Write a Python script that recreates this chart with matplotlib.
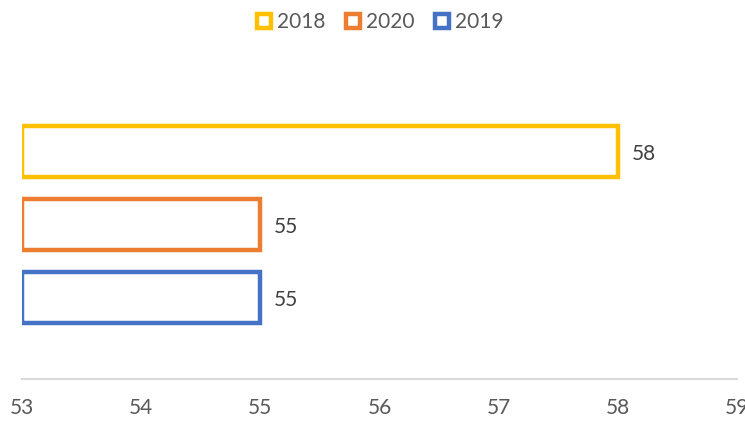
import matplotlib.pyplot as plt
from matplotlib.patches import Patch

# data
years = ['2019', '2020', '2018']
values = [55, 55, 58]
colors = ['#4472C4', '#ED7D31', '#FFC000']
legend_order = ['2018', '2020', '2019']
xticks = [53, 54, 55, 56, 57, 58, 59]

plt.rcParams['font.family'] = ['Lato', 'DejaVu Sans']

fig = plt.figure(figsize=(7.45, 4.21), dpi=100)
ax = fig.add_axes([22 / 745, 42 / 421, 715 / 745, 319 / 421])

for i, (yr, v, c) in enumerate(zip(years, values, colors)):
    ax.barh(i, v - xticks[0], left=xticks[0], height=0.7, facecolor='white',
            edgecolor=c, linewidth=3.2)
    ax.annotate(str(v), (v, i - 0.04), xytext=(10, 0), textcoords='offset points',
                va='center', ha='left', fontsize=15, color='#404040')

ax.set_xlim(xticks[0], xticks[-1])
ax.set_ylim(-1.116, 3.254)
ax.set_xticks(xticks)
ax.set_xticklabels([str(t) for t in xticks], fontsize=15, color='#595959')
ax.tick_params(axis='x', length=0, pad=14)
ax.set_yticks([])
for s in ['top', 'right', 'left']:
    ax.spines[s].set_visible(False)
ax.spines['bottom'].set_color('#D9D9D9')
ax.spines['bottom'].set_linewidth(1.5)

handles = [Patch(facecolor='white', edgecolor=colors[years.index(y)], linewidth=3.2, label=y)
           for y in legend_order]
fig.legend(handles=handles, loc='upper center', bbox_to_anchor=(0.51, 1.015), ncol=3,
           frameon=False, fontsize=15, labelcolor='#595959', handlelength=0.7,
           handleheight=0.7, handletextpad=0.25, columnspacing=1.0)

fig.savefig('out.png', dpi=100)
